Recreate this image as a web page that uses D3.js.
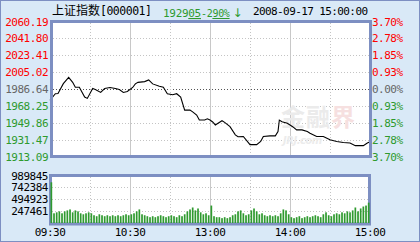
<!DOCTYPE html>
<html lang="en">
<head>
<meta charset="UTF-8">
<title>上证指数</title>
<script src="https://cdn.jsdelivr.net/npm/d3@7"></script>
<style>
  body { margin: 0; background: #d9e9f7; }
  svg { display: block; }
  text { font-family: "DejaVu Sans Mono", "Liberation Mono", monospace; font-size: 11px; letter-spacing: -0.5px; }
</style>
</head>
<body>
<svg class="chart"></svg>
<script>
// price axis labels (top to bottom) and percent labels
const priceTicks = [2060.19, 2041.80, 2023.41, 2005.02, 1986.64, 1968.25, 1949.86, 1931.47, 1913.09]
const pctTicks = ['3.70%', '2.78%', '1.85%', '0.93%', '0.00%', '0.93%', '1.85%', '2.78%', '3.70%']
const prevClose = 1986.64
const volTicks = [989845, 742384, 494923, 247461]
const timeTicks = [0, 60, 120, 180, 240]
const timeLabels = ['09:30', '10:30', '13:00', '14:00', '15:00']

// intraday trace: trading minute (0..240) and index value
const lineMinutes = [0, 4, 6, 10, 14, 17, 19, 22, 26, 28, 32, 34, 38, 41, 45, 49, 52, 55, 58, 62, 64, 66, 71, 74, 77, 82, 85, 88, 92, 95, 98, 101, 105, 107, 110, 112, 116, 118, 120, 122, 124, 129, 131, 135, 139, 141, 145, 150, 155, 158, 160, 165, 169, 171, 172, 174, 178, 182, 185, 189, 193, 195, 200, 205, 210, 215, 220, 225, 229, 235, 238, 240]
const linePrices = [1974.3, 1981.5, 1981.8, 1992.5, 1999.3, 1993.9, 1988.6, 1988.6, 1977.8, 1976.4, 1987.2, 1986.1, 1982.9, 1987.2, 1988.3, 1987.2, 1986.1, 1982.9, 1984.0, 1988.3, 1992.2, 1993.9, 1994.7, 1996.5, 1992.2, 1989.6, 1988.6, 1981.5, 1980.4, 1981.5, 1977.8, 1963.6, 1963.6, 1961.7, 1958.2, 1952.8, 1952.8, 1954.2, 1952.8, 1950.7, 1947.5, 1952.1, 1950.3, 1945.6, 1936.7, 1934.6, 1934.9, 1926.0, 1926.0, 1929.5, 1934.9, 1935.6, 1935.6, 1940.3, 1952.8, 1951.0, 1949.3, 1945.6, 1942.1, 1942.1, 1940.3, 1938.5, 1934.9, 1934.9, 1931.3, 1929.5, 1928.4, 1927.8, 1924.9, 1924.9, 1927.8, 1929.05]

// volume per 2-minute slot
const volumes = [848400, 202000, 222200, 242400, 202000, 242400, 262600, 282800, 222200, 262600, 242400, 202000, 181800, 202000, 222200, 202000, 161600, 141400, 181800, 161600, 141400, 161600, 141400, 161600, 141400, 161600, 141400, 161600, 181800, 161600,
  181800, 202000, 242400, 282800, 181800, 161600, 141400, 121200, 141400, 121200, 141400, 161600, 141400, 121200, 141400, 161600, 141400, 121200, 161600, 141400, 181800, 242400, 282800, 323200, 262600, 303000, 222200, 181800, 202000, 161600,
  363600, 141400, 121200, 121200, 101000, 121200, 101000, 121200, 161600, 181800, 242400, 262600, 202000, 161600, 181800, 262600, 303000, 242400, 181800, 202000, 161600, 141400, 161600, 141400, 161600, 141400, 202000, 282800, 262600, 181800,
  121200, 101000, 121200, 141400, 101000, 121200, 141400, 121200, 141400, 161600, 141400, 121200, 181800, 222200, 161600, 141400, 181800, 202000, 181800, 222200, 202000, 242400, 222200, 262600, 323200, 242400, 303000, 343400, 363600, 424200]

const W = 420, H = 242
const red = '#ff0000', green = '#2e9a2e', grey = '#666666', frame = '#7d8fc2'

const svg = d3.select('.chart').attr('width', W).attr('height', H)

svg.append('rect').attr('x', 0.5).attr('y', 0.5).attr('width', W - 1).attr('height', H - 1)
  .attr('fill', '#d9e9f7').attr('stroke', frame)

const x = d3.scaleLinear().domain([0, 240]).range([50, 370])
const y = d3.scaleLinear().domain([1913.09, 2060.19]).range([156.5, 21.5])
const yv = d3.scaleLinear().domain([0, 989845]).range([223, 175.5])

// ---- header
const head = svg.append('text').attr('x', 52).attr('y', 15)
head.append('tspan').text('上证指数').style('font-family', '"Noto Sans CJK SC"').style('font-size', '12px').style('letter-spacing', '0px')
head.append('tspan').text('[000001]').style('font-size', '11.5px')

const quote = svg.append('text').attr('x', 163).attr('y', 17).attr('fill', green).style('letter-spacing', '-0.3px')
quote.append('tspan').text('1929')
quote.append('tspan').text('05').attr('text-decoration', 'underline')
quote.append('tspan').text('-2').style('font-size', '10px')
quote.append('tspan').text('90%').style('font-size', '10px').attr('text-decoration', 'underline')
quote.append('tspan').text('↓').attr('dx', 3).style('font-size', '12px').style('font-family', '"DejaVu Sans"')

svg.append('text').attr('x', 253).attr('y', 15).text('2008-09-17 15:00:00').style('letter-spacing', '-0.6px')

// ---- price panel
const main = svg.append('g')
main.append('rect').attr('x', 51.5).attr('y', 21.5).attr('width', 319).attr('height', 135).attr('fill', '#fff')

main.selectAll('.hgrid').data(priceTicks.slice(1, -1)).join('line')
  .attr('x1', 53).attr('x2', 369)
  .attr('y1', d => Math.round(y(d)) + 0.5).attr('y2', d => Math.round(y(d)) + 0.5)
  .attr('stroke', d => d === prevClose ? '#555' : '#c4c4c4')
  .attr('stroke-dasharray', '1,2')

const vlines = d3.range(30, 240, 30)
function vgrid(g, top, bottom) {
  g.selectAll('.vgrid').data(vlines).join('line')
    .attr('x1', d => x(d) + 0.5).attr('x2', d => x(d) + 0.5)
    .attr('y1', top).attr('y2', bottom)
    .attr('stroke', d => d % 60 === 0 ? '#c8c8c8' : '#c4c4c4')
    .attr('stroke-dasharray', d => d % 60 === 0 ? null : '1,2')
}
vgrid(main, 23, 155)

// watermark
const wm = main.append('g')
const wt = wm.append('text').attr('x', 281).attr('y', 126)
  .style('font-family', '"Noto Sans CJK SC"').style('font-size', '24px').style('font-weight', 'bold').style('letter-spacing', '1px')
wt.append('tspan').text('金融').attr('fill', '#ebebeb')
wt.append('tspan').text('界').attr('fill', '#f6e0e0')
wm.append('text').attr('x', 283).attr('y', 144).text('JRJ.com')
  .attr('fill', '#ececec').style('font-family', '"DejaVu Sans"').style('font-style', 'italic')
  .style('font-weight', 'bold').style('font-size', '10px')

const line = d3.line().x((d, i) => x(lineMinutes[i])).y(d => y(d))
main.append('path').datum(linePrices).attr('d', line)
  .attr('fill', 'none').attr('stroke', '#000').attr('stroke-width', 1.1)

main.append('rect').attr('x', 51.5).attr('y', 21.5).attr('width', 319).attr('height', 135)
  .attr('fill', 'none').attr('stroke', frame).attr('stroke-width', 3)

const tickColor = d => d > prevClose ? red : d < prevClose ? green : grey
svg.selectAll('.plab').data(priceTicks).join('text')
  .attr('x', 48).attr('y', d => y(d) + 4).attr('text-anchor', 'end')
  .attr('fill', tickColor).text(d => d.toFixed(2))
svg.selectAll('.pct').data(priceTicks).join('text')
  .attr('x', 372).attr('y', d => y(d) + 4)
  .attr('fill', tickColor).text((d, i) => pctTicks[i])

// ---- volume panel
const vol = svg.append('g')
vol.append('rect').attr('x', 50.5).attr('y', 175.5).attr('width', 319).attr('height', 48.5).attr('fill', '#fff')
vol.selectAll('.vh').data(volTicks.slice(1)).join('line')
  .attr('x1', 52).attr('x2', 368)
  .attr('y1', d => Math.round(yv(d)) + 0.5).attr('y2', d => Math.round(yv(d)) + 0.5)
  .attr('stroke', '#c4c4c4').attr('stroke-dasharray', '1,2')
vgrid(vol, 177, 223)
vol.append('rect').attr('x', 50.5).attr('y', 175.5).attr('width', 319).attr('height', 48.5)
  .attr('fill', 'none').attr('stroke', frame).attr('stroke-width', 3)
vol.selectAll('.bar').data(volumes).join('rect')
  .attr('x', (d, i) => x(i * 2) + 0.5).attr('width', 1.7)
  .attr('y', d => yv(d)).attr('height', d => yv(0) - yv(d))
  .attr('fill', '#2f9a2f')

svg.selectAll('.vlab').data(volTicks).join('text')
  .attr('x', 48).attr('y', d => yv(d) + 4).attr('text-anchor', 'end')
  .attr('fill', '#000').text(d => d)

svg.selectAll('.tlab').data(timeTicks).join('text')
  .attr('x', d => x(d)).attr('y', 236).attr('text-anchor', 'middle')
  .attr('fill', '#000').text((d, i) => timeLabels[i])
</script>
</body>
</html>
